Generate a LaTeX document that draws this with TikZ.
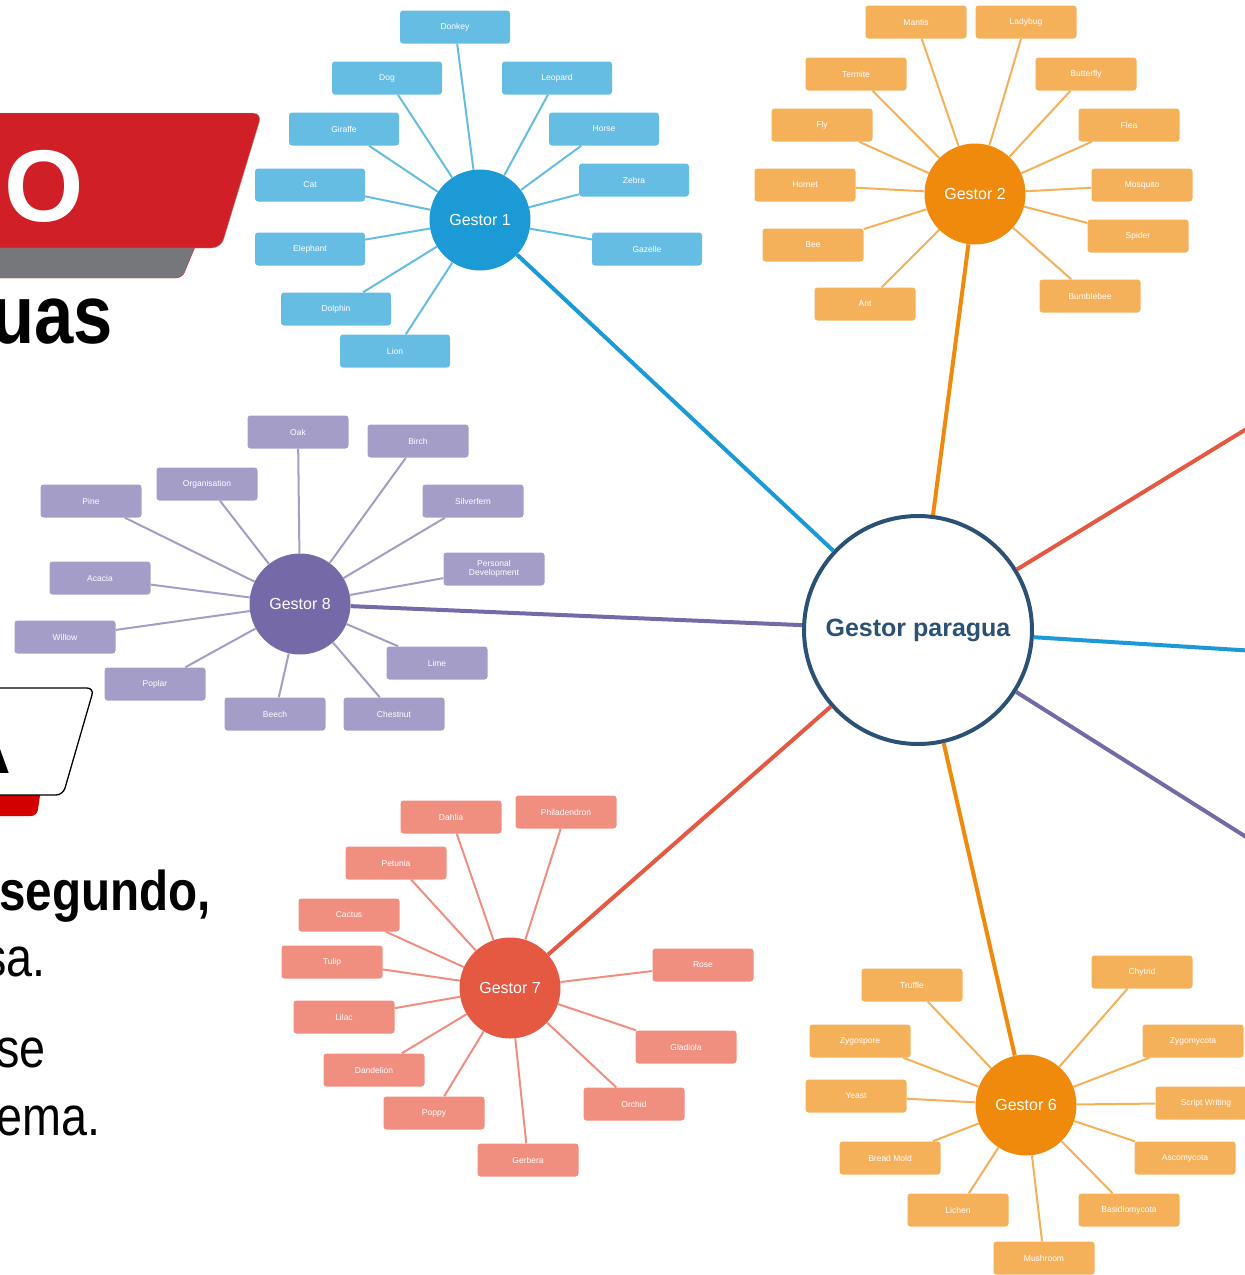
\documentclass[tikz,border=0pt]{standalone}
\usepackage{fontspec}
\setmainfont{Liberation Sans}
\newfontfamily\slidefont[FakeStretch=0.85]{Liberation Sans}
\definecolor{hubblue}{RGB}{27,154,214}
\definecolor{leafblue}{RGB}{102,189,227}
\definecolor{huborange}{RGB}{239,138,12}
\definecolor{leaforange}{RGB}{245,176,90}
\definecolor{hubpurple}{RGB}{117,105,168}
\definecolor{leafpurple}{RGB}{164,157,200}
\definecolor{hubred}{RGB}{229,88,66}
\definecolor{leafred}{RGB}{240,142,128}
\definecolor{paraguaink}{RGB}{43,82,117}
\definecolor{bannerred}{RGB}{208,31,38}
\definecolor{bannergray}{RGB}{118,119,123}
\definecolor{tabred}{RGB}{210,0,0}

\begin{document}
\begin{tikzpicture}[x=1pt,y=-1pt,every node/.style={align=center,font=\fontsize{8.5}{9.5}\selectfont},
    leaf/.style={rounded corners=3pt,minimum width=101pt,minimum height=33pt,text=white,inner sep=1pt},
    hub/.style={circle,minimum size=101pt,inner sep=0pt,text=white,font=\fontsize{16}{18}\selectfont},
    twig/.style={line width=2pt},
    trunk/.style={line width=4pt},
    slidetext/.style={anchor=base east,inner sep=0pt}]
  \useasboundingbox (0,0) rectangle (1245,1275);
  \clip (0,0) rectangle (1245,1275);
  % slide left behind the map
  \draw[fill=bannergray,draw=bannerred,thin,rounded corners=6pt] (-10,235) -- (200,235) -- (182,278) -- (-10,278) -- cycle;
  \draw[fill=bannerred,draw=gray!70,thin,rounded corners=9pt] (-10,113) -- (262,113) -- (221,248) -- (-10,248) -- cycle;
  \node[slidetext,text=white,font=\fontsize{102}{110}\selectfont\bfseries] (pasotext) at (84,221) {PASO};
  \node[slidetext,font=\slidefont\fontsize{83}{90}\selectfont\bfseries] (titletext) at (113,343) {uas};
  \draw[fill=tabred,draw=none,rounded corners=6pt] (-10,775) -- (43,775) -- (37,816) -- (-10,816) -- cycle;
  \draw[fill=white,draw=black,line width=1.3pt,rounded corners=7pt] (-10,688) -- (94,688) -- (63,795) -- (-10,795) -- cycle;
  \node[slidetext,font=\fontsize{60}{66}\selectfont\bfseries] (tabtext) at (11,773) {A};
  \node[slidetext,font=\slidefont\fontsize{56}{60}\selectfont\bfseries] (line1) at (211,910) {segundo,};
  \node[slidetext,font=\slidefont\fontsize{55}{60}\selectfont] (line2) at (46,976) {sa.};
  \node[slidetext,font=\slidefont\fontsize{55}{60}\selectfont] (line3) at (46,1067) {se};
  \node[slidetext,font=\slidefont\fontsize{55}{60}\selectfont] (line4) at (101,1135) {ema.};

  % centre and the five hubs
  \node[circle,draw=paraguaink,line width=4pt,fill=white,minimum size=228pt,text=paraguaink,
    font=\fontsize{25}{28}\selectfont\bfseries] (paragua) at (918,630) {Gestor paragua};
  \node[hub,fill=hubblue] (g1) at (480,220) {Gestor 1};
  \node[hub,fill=huborange] (g2) at (975,194) {Gestor 2};
  \node[hub,fill=huborange] (g6) at (1026,1105) {Gestor 6};
  \node[hub,fill=hubred] (g7) at (510,988) {Gestor 7};
  \node[hub,fill=hubpurple] (g8) at (300,604) {Gestor 8};
  \coordinate (g3) at (1400,335);
  \coordinate (g4) at (1400,660);
  \coordinate (g5) at (1400,934);
  \draw[trunk,hubblue] (paragua) -- (g1);
  \draw[trunk,huborange] (paragua) -- (g2);
  \draw[trunk,hubred] (paragua) -- (g3);
  \draw[trunk,hubblue] (paragua) -- (g4);
  \draw[trunk,hubpurple] (paragua) -- (g5);
  \draw[trunk,huborange] (paragua) -- (g6);
  \draw[trunk,hubred] (paragua) -- (g7);
  \draw[trunk,hubpurple] (paragua) -- (g8);

  % Gestor 1
  \node[leaf,fill=leafblue,minimum width=110pt] (donkey) at (455,27) {Donkey};
  \node[leaf,fill=leafblue,minimum width=110pt] (dog) at (387,78) {Dog};
  \node[leaf,fill=leafblue,minimum width=110pt] (leopard) at (557,78) {Leopard};
  \node[leaf,fill=leafblue,minimum width=110pt] (giraffe) at (344,129) {Giraffe};
  \node[leaf,fill=leafblue,minimum width=110pt] (horse) at (604,129) {Horse};
  \node[leaf,fill=leafblue,minimum width=110pt] (cat) at (310,185) {Cat};
  \node[leaf,fill=leafblue,minimum width=110pt] (zebra) at (634,180) {Zebra};
  \node[leaf,fill=leafblue,minimum width=110pt] (elephant) at (310,249) {Elephant};
  \node[leaf,fill=leafblue,minimum width=110pt] (gazelle) at (647,249) {Gazelle};
  \node[leaf,fill=leafblue,minimum width=110pt] (dolphin) at (336,309) {Dolphin};
  \node[leaf,fill=leafblue,minimum width=110pt] (lion) at (395,351) {Lion};
  \foreach \n in {donkey,dog,leopard,giraffe,horse,cat,zebra,elephant,gazelle,dolphin,lion}
    \draw[twig,leafblue] (g1) -- (\n);

  % Gestor 2
  \node[leaf,fill=leaforange] (mantis) at (916,22) {Mantis};
  \node[leaf,fill=leaforange] (ladybug) at (1026,22) {Ladybug};
  \node[leaf,fill=leaforange] (termite) at (856,74) {Termite};
  \node[leaf,fill=leaforange] (butterfly) at (1086,74) {Butterfly};
  \node[leaf,fill=leaforange] (fly) at (822,125) {Fly};
  \node[leaf,fill=leaforange] (flea) at (1129,125) {Flea};
  \node[leaf,fill=leaforange] (hornet) at (805,185) {Hornet};
  \node[leaf,fill=leaforange] (mosquito) at (1142,185) {Mosquito};
  \node[leaf,fill=leaforange] (bee) at (813,245) {Bee};
  \node[leaf,fill=leaforange] (spider) at (1138,236) {Spider};
  \node[leaf,fill=leaforange] (ant) at (865,304) {Ant};
  \node[leaf,fill=leaforange] (bumblebee) at (1090,296) {Bumblebee};
  \foreach \n in {mantis,ladybug,termite,butterfly,fly,flea,hornet,mosquito,bee,spider,ant,bumblebee}
    \draw[twig,leaforange] (g2) -- (\n);

  % Gestor 8
  \node[leaf,fill=leafpurple] (oak) at (298,432) {Oak};
  \node[leaf,fill=leafpurple] (birch) at (418,441) {Birch};
  \node[leaf,fill=leafpurple] (organisation) at (207,484) {Organisation};
  \node[leaf,fill=leafpurple] (pine) at (91,501) {Pine};
  \node[leaf,fill=leafpurple] (silverfern) at (473,501) {Silverfern};
  \node[leaf,fill=leafpurple] (personal) at (494,569) {Personal\\Development};
  \node[leaf,fill=leafpurple] (acacia) at (100,578) {Acacia};
  \node[leaf,fill=leafpurple] (willow) at (65,637) {Willow};
  \node[leaf,fill=leafpurple] (lime) at (437,663) {Lime};
  \node[leaf,fill=leafpurple] (poplar) at (155,684) {Poplar};
  \node[leaf,fill=leafpurple] (beech) at (275,714) {Beech};
  \node[leaf,fill=leafpurple] (chestnut) at (394,714) {Chestnut};
  \foreach \n in {oak,birch,organisation,pine,silverfern,personal,acacia,willow,lime,poplar,beech,chestnut}
    \draw[twig,leafpurple] (g8) -- (\n);

  % Gestor 7
  \node[leaf,fill=leafred] (dahlia) at (451,817) {Dahlia};
  \node[leaf,fill=leafred] (philadendron) at (566,812) {Philadendron};
  \node[leaf,fill=leafred] (petunia) at (396,863) {Petunia};
  \node[leaf,fill=leafred] (cactus) at (349,915) {Cactus};
  \node[leaf,fill=leafred] (tulip) at (332,962) {Tulip};
  \node[leaf,fill=leafred] (rose) at (703,965) {Rose};
  \node[leaf,fill=leafred] (lilac) at (344,1017) {Lilac};
  \node[leaf,fill=leafred] (gladiola) at (686,1047) {Gladiola};
  \node[leaf,fill=leafred] (dandelion) at (374,1070) {Dandelion};
  \node[leaf,fill=leafred] (orchid) at (634,1104) {Orchid};
  \node[leaf,fill=leafred] (poppy) at (434,1113) {Poppy};
  \node[leaf,fill=leafred] (gerbera) at (528,1160) {Gerbera};
  \foreach \n in {dahlia,philadendron,petunia,cactus,tulip,rose,lilac,gladiola,dandelion,orchid,poppy,gerbera}
    \draw[twig,leafred] (g7) -- (\n);

  % Gestor 6
  \node[leaf,fill=leaforange] (truffle) at (912,985) {Truffle};
  \node[leaf,fill=leaforange] (chytrid) at (1142,972) {Chytrid};
  \node[leaf,fill=leaforange] (zygospore) at (860,1041) {Zygospore};
  \node[leaf,fill=leaforange] (zygomycota) at (1193,1041) {Zygomycota};
  \node[leaf,fill=leaforange] (yeast) at (856,1096) {Yeast};
  \node[leaf,fill=leaforange] (scriptwriting) at (1206,1103) {Script Writing};
  \node[leaf,fill=leaforange] (breadmold) at (890,1158) {Bread Mold};
  \node[leaf,fill=leaforange] (ascomycota) at (1185,1158) {Ascomycota};
  \node[leaf,fill=leaforange] (lichen) at (958,1210) {Lichen};
  \node[leaf,fill=leaforange] (basidiomycota) at (1129,1210) {Basidiomycota};
  \node[leaf,fill=leaforange] (mushroom) at (1044,1258) {Mushroom};
  \foreach \n in {truffle,chytrid,zygospore,zygomycota,yeast,scriptwriting,breadmold,ascomycota,lichen,basidiomycota,mushroom}
    \draw[twig,leaforange] (g6) -- (\n);
\end{tikzpicture}
\end{document}
